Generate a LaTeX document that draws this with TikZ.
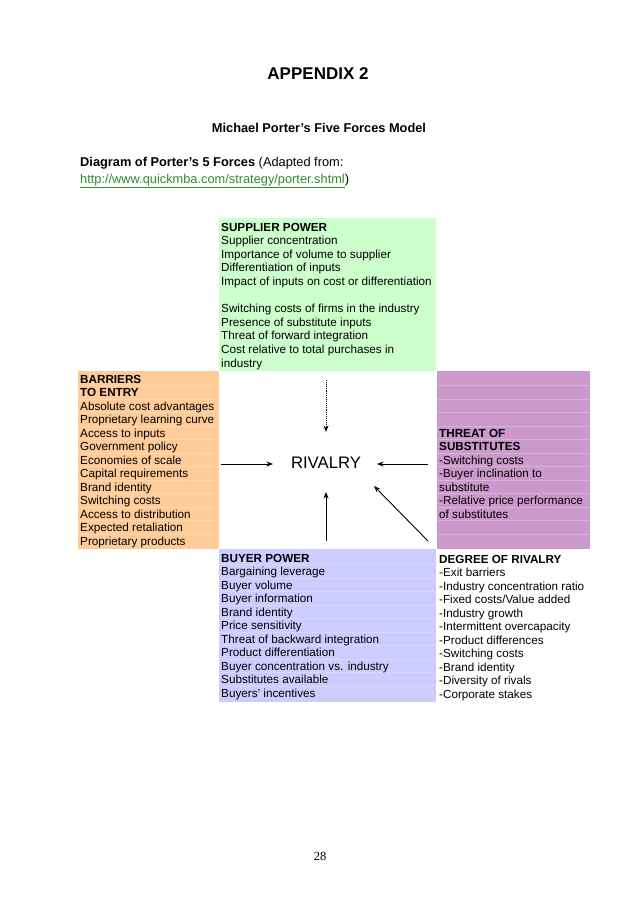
\documentclass[tikz,border=0pt]{standalone}
\usepackage{fontspec}
\setmainfont{Liberation Sans}
\newfontfamily\pagefont{Liberation Serif}
\usetikzlibrary{arrows.meta}

\definecolor{supplierfill}{HTML}{CCFFCC}
\definecolor{entryfill}{HTML}{FFCC99}
\definecolor{substfill}{HTML}{CC99CC}
\definecolor{buyerfill}{HTML}{CCCCFF}
\definecolor{linkgreen}{HTML}{2E8B2E}

\tikzset{
  cell/.style={anchor=base west, inner sep=0pt, font=\fontsize{11.7}{13}\selectfont},
  rowline/.style={white, opacity=.25, line width=.4pt},
  force/.style={line width=.9pt, -{Stealth[length=6.5pt, width=5pt]}}
}

\begin{document}
\begin{tikzpicture}[x=1pt, y=-1pt]
\useasboundingbox (0, 0) rectangle (638, 903);

% page heading
\node [font=\bfseries\fontsize{17}{19}\selectfont] (appendix) at (318, 74) {APPENDIX 2};
\node [font=\bfseries\fontsize{12.8}{15}\selectfont] (model) at (319, 128) {Michael Porter’s Five Forces Model};
\node [anchor=base west, inner sep=0pt, font=\fontsize{12.8}{15}\selectfont] (source) at (80, 166.5)
  {\textbf{Diagram of Porter's 5 Forces} (Adapted from:};
\node [anchor=base west, inner sep=0pt, font=\fontsize{12.8}{15}\selectfont] (link) at (80, 183.5)
  {\textcolor{linkgreen}{\underline{http://www.quickmba.com/strategy/porter.shtml}})};

% the five boxes
\fill [supplierfill] (219, 218) rectangle (436, 371);
\fill [entryfill] (78, 371) rectangle (219, 549);
\fill [substfill] (437, 371) rectangle (590, 549);
\fill [buyerfill] (219, 549) rectangle (436, 702);
\foreach \y in {1,...,12} {
  \draw [rowline] (78, 372+13.5*\y) -- (219, 372+13.5*\y);
  \draw [rowline] (437, 372+13.5*\y) -- (590, 372+13.5*\y);
}
\foreach \y in {1,...,10} {
  \draw [rowline] (219, 551+13.5*\y) -- (436, 551+13.5*\y);
}

% supplier power
\foreach \t [count=\i from 0] in {
  \textbf{SUPPLIER POWER},
  Supplier concentration,
  Importance of volume to supplier,
  Differentiation of inputs,
  Impact of inputs on cost or differentiation,
  {},
  Switching costs of firms in the industry,
  Presence of substitute inputs,
  Threat of forward integration,
  Cost relative to total purchases in,
  industry
  } {
  \node [cell] (sup-\i) at (221, 231+13.6*\i) {\t};
}

% barriers to entry
\foreach \t [count=\i from 0] in {
  \textbf{BARRIERS},
  \textbf{TO ENTRY},
  Absolute cost advantages,
  Proprietary learning curve,
  Access to inputs,
  Government policy,
  Economies of scale,
  Capital requirements,
  Brand identity,
  Switching costs,
  Access to distribution,
  Expected retaliation,
  Proprietary products
  } {
  \node [cell] (ent-\i) at (80, 383+13.5*\i) {\t};
}

% threat of substitutes
\foreach \t [count=\i from 0] in {
  \textbf{THREAT OF},
  \textbf{SUBSTITUTES},
  -Switching costs,
  -Buyer inclination to,
  substitute,
  -Relative price performance,
  of substitutes
  } {
  \node [cell] (sub-\i) at (439, 437+13.5*\i) {\t};
}

% buyer power
\foreach \t [count=\i from 0] in {
  \textbf{BUYER POWER},
  Bargaining leverage,
  Buyer volume,
  Buyer information,
  Brand identity,
  Price sensitivity,
  Threat of backward integration,
  Product differentiation,
  Buyer concentration vs. industry,
  Substitutes available,
  Buyers' incentives
  } {
  \node [cell] (buy-\i) at (221, 562+13.5*\i) {\t};
}

% degree of rivalry
\foreach \t [count=\i from 0] in {
  \textbf{DEGREE OF RIVALRY},
  -Exit barriers,
  -Industry concentration ratio,
  -Fixed costs/Value added,
  -Industry growth,
  -Intermittent overcapacity,
  -Product differences,
  -Switching costs,
  -Brand identity,
  -Diversity of rivals,
  -Corporate stakes
  } {
  \node [cell] (deg-\i) at (439, 563+13.5*\i) {\t};
}

% rivalry and the forces
\node [font=\fontsize{16.7}{19}\selectfont] (rivalry) at (326, 463) {RIVALRY};
\coordinate (sup-tail) at (326, 380);
\coordinate (sup-head) at (326, 432);
\coordinate (ent-tail) at (221, 464);
\coordinate (ent-head) at (273, 464);
\coordinate (sub-tail) at (428, 464);
\coordinate (sub-head) at (377, 464);
\coordinate (buy-tail) at (326, 541);
\coordinate (buy-head) at (326, 492);
\coordinate (deg-tail) at (428, 541);
\coordinate (deg-head) at (374, 486);
\draw [force, densely dotted] (sup-tail) -- (sup-head);
\foreach \f in {ent, sub, buy, deg} {
  \draw [force] (\f-tail) -- (\f-head);
}

% page number
\node [font=\pagefont\fontsize{12.5}{14}\selectfont] (pageno) at (320, 856) {28};
\end{tikzpicture}
\end{document}
